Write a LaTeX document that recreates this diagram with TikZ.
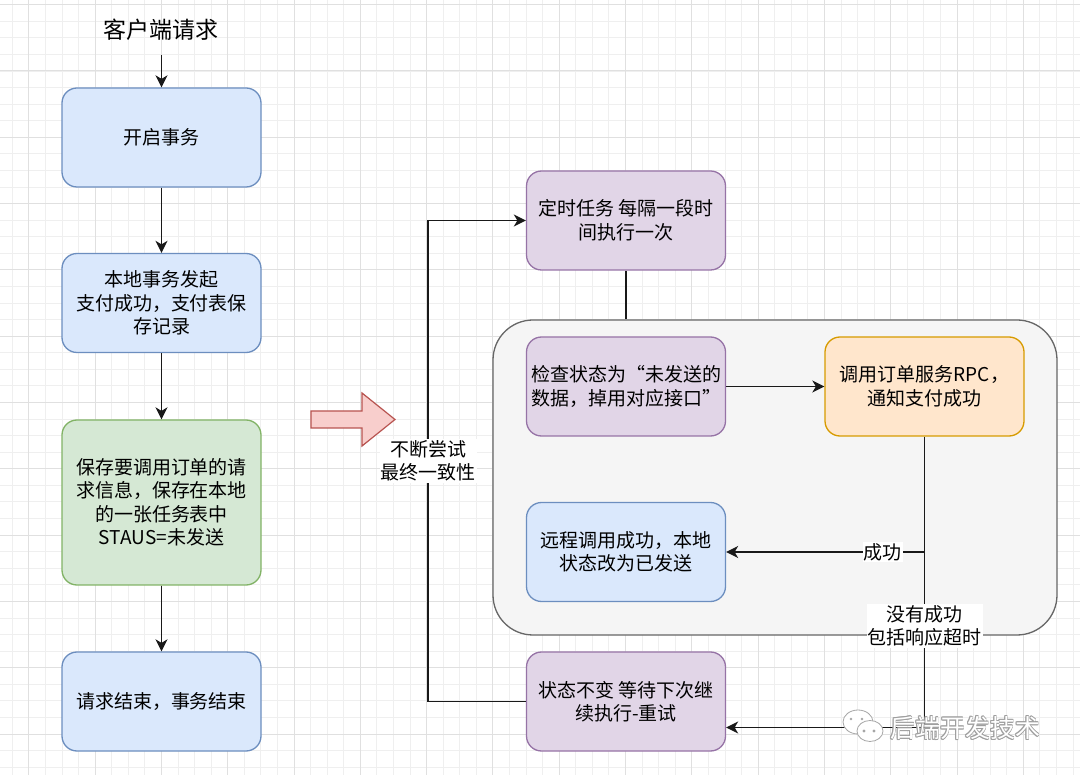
\documentclass[tikz,border=0pt]{standalone}
\usepackage{fontspec}
\setmainfont{Noto Sans CJK SC}
\usetikzlibrary{arrows.meta}
\definecolor{bfill}{HTML}{DAE8FC}\definecolor{bline}{HTML}{6C8EBF}
\definecolor{gfill}{HTML}{D5E8D4}\definecolor{gline}{HTML}{82B366}
\definecolor{pfill}{HTML}{E1D5E7}\definecolor{pline}{HTML}{9673A6}
\definecolor{ofill}{HTML}{FFE6CC}\definecolor{oline}{HTML}{D79B00}
\definecolor{cfill}{HTML}{F5F5F5}\definecolor{cline}{HTML}{666666}
\definecolor{rfill}{HTML}{F8CECC}\definecolor{rline}{HTML}{B85450}
\definecolor{gridminor}{HTML}{EFEFEF}\definecolor{gridmajor}{HTML}{E0E0E0}
\tikzset{
  txt/.style={font=\fontsize{19}{23.5}\selectfont},
  basebox/.style={txt, rounded corners=15pt, minimum width=199pt, minimum height=99pt,
     align=center, line width=1.3pt, inner sep=2pt},
  bluebox/.style={basebox, draw=bline, fill=bfill},
  greenbox/.style={basebox, draw=gline, fill=gfill, minimum height=165pt},
  purplebox/.style={basebox, draw=pline, fill=pfill},
  orangebox/.style={basebox, draw=oline, fill=ofill},
  container/.style={draw=cline, fill=cfill, line width=1.3pt, rounded corners=40pt,
     minimum width=564pt, minimum height=315pt},
  conn/.style={draw=black!90, line width=1.5pt, -{Stealth[length=12pt,width=12pt,inset=3.5pt]}},
  plain/.style={draw=black!90, line width=1.5pt},
  lbl/.style={txt, fill=white, inner sep=1pt, align=center},
  wm/.style={font=\fontsize{25}{28}\selectfont},
}
\begin{document}
\begin{tikzpicture}[x=1pt,y=-1pt]
\useasboundingbox (0,0) rectangle (1080,775);
\fill[white] (0,0) rectangle (1080,775);
% grid
\foreach \i in {0,...,64} \draw[gridminor, line width=0.9pt] ({12.225+\i*16.575},0) -- ({12.225+\i*16.575},775);
\foreach \i in {0,...,46} \draw[gridminor, line width=0.9pt] (0,{4.7+\i*16.575}) -- (1080,{4.7+\i*16.575});
\foreach \i in {0,...,15} \draw[gridmajor, line width=1pt] ({28.8+\i*66.3},0) -- ({28.8+\i*66.3},775);
\foreach \i in {0,...,11} \draw[gridmajor, line width=1pt] (0,{4.7+\i*66.3}) -- (1080,{4.7+\i*66.3});

% left column
\node[font=\fontsize{23}{27}\selectfont] (title) at (161,30) {客户端请求};
\coordinate (tstart) at (161.5,55);
\node[bluebox] (b1) at (161.5,137.5) {开启事务};
\node[bluebox] (b2) at (161.5,303) {本地事务发起\\支付成功，支付表保\\存记录};
\node[greenbox] (b3) at (161.5,502.5) {保存要调用订单的请\\求信息，保存在本地\\的一张任务表中\\STAUS=未发送};
\node[bluebox] (b4) at (161.5,701.5) {请求结束，事务结束};
\draw[conn] (tstart) -- (b1);
\draw[conn] (b1) -- (b2);
\draw[conn] (b2) -- (b3);
\draw[conn] (b3) -- (b4);

% big pink arrow
\draw[draw=rline, fill=rfill, line width=1.2pt, line join=miter]
  (311,411) -- (362,411) -- (362,393) -- (395,419.5) -- (362,446) -- (362,428) -- (311,428) -- cycle;

% right part
\node[container] (cont) at (775,477.5) {};
\node[purplebox] (s1) at (626,220.5) {定时任务 每隔一段时\\间执行一次};
\node[purplebox] (chk) at (626,386.5) {检查状态为“未发送的\\数据，掉用对应接口”};
\node[orangebox] (rpc) at (924.5,386.5) {调用订单服务RPC，\\通知支付成功};
\node[bluebox] (rs) at (626,552) {远程调用成功，本地\\状态改为已发送};
\node[purplebox] (s5) at (626,701.5) {状态不变 等待下次继\\续执行-重试};

\draw[plain] (s1.south) -- (s1.south |- cont.north);
\draw[conn] (chk) -- (rpc);
\coordinate (j1) at (924.5,552);
\coordinate (j2) at (924.5,727.5);
\draw[plain] (rpc.south) -- (j2);
\draw[conn] (j1) -- (j1 -| rs.east) node[lbl, pos=0.21] (lok) {成功};
\draw[conn] (j2) -- (j2 -| s5.east);
\node[lbl] (lfail) at (924.5,626) {没有成功\\包括响应超时};

\coordinate (lp) at (428,701.5);
\draw[conn] (s5.west) -- (lp) |- (s1.west);
\node[lbl] (lloop) at (428,461) {不断尝试\\最终一致性};

% watermark
\begin{scope}[draw=gray!70, fill=white, line width=0.8pt]
  \filldraw (858,722) ellipse (15pt and 12pt);
  \filldraw (870,731) ellipse (13pt and 10.5pt);
  \fill[gray!70] (864,731) circle (1.6pt) (874,731) circle (1.6pt);
  \fill[gray!70] (851,719) circle (1.4pt) (862,719) circle (1.4pt);
\end{scope}
\foreach \dx/\dy in {0.8/0,-0.8/0,0/0.8,0/-0.8,0.6/0.6,-0.6/0.6,0.6/-0.6,-0.6/-0.6}
  \node[wm, text=gray!75] at ({965+\dx},{728+\dy}) {后端开发技术};
\node[wm, text=white] (wmt) at (965,728) {后端开发技术};
\end{tikzpicture}
\end{document}
